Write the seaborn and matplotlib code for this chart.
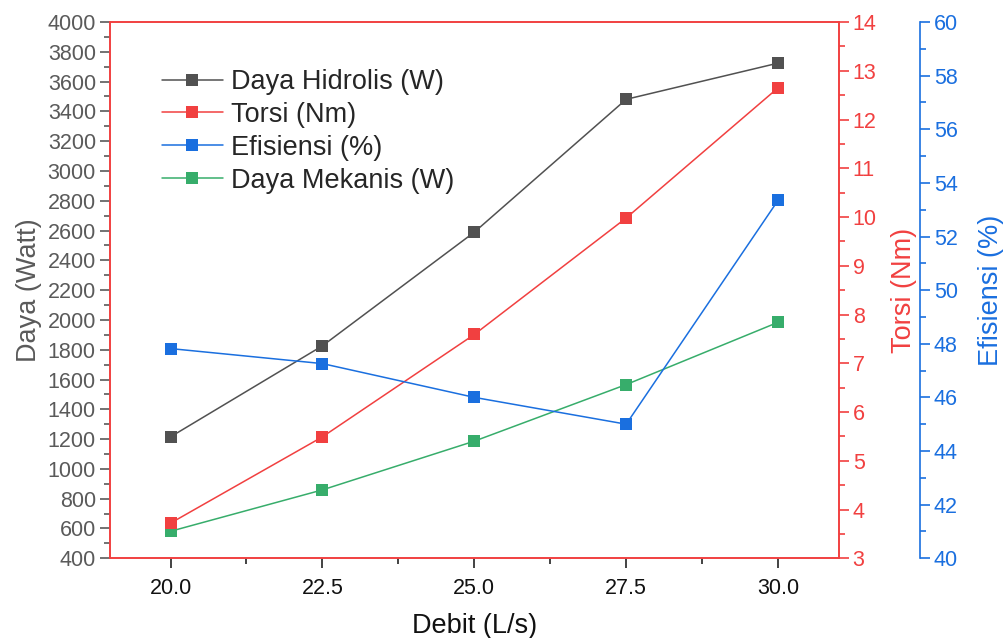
import matplotlib
matplotlib.use("Agg")
import matplotlib.pyplot as plt
import seaborn as sns
import pandas as pd
from matplotlib.ticker import MultipleLocator

# data
debit = [20.0, 22.5, 25.0, 27.5, 30.0]
daya_hidrolis = [1215, 1826, 2589, 3481, 3724]
torsi = [3.72, 5.49, 7.59, 9.98, 12.65]
efisiensi = [47.82, 47.26, 46.0, 45.0, 53.35]
daya_mekanis = [581, 859, 1186, 1566, 1984]

df = pd.DataFrame({"debit": debit, "hidrolis": daya_hidrolis, "torsi": torsi,
                   "efisiensi": efisiensi, "mekanis": daya_mekanis})

# Origin-like colours
c_gray = "#515151"
c_red = "#F14040"
c_blue = "#1A6FDF"
c_green = "#37AD6B"
c_txt = "#5a5a5a"

sns.set_style("white")
plt.rcParams["font.family"] = ["Liberation Sans", "DejaVu Sans"]

fig = plt.figure(figsize=(10.07, 6.38), dpi=100)
ax = fig.add_axes([0.109, 0.125, 0.724, 0.8405])
ax2 = ax.twinx()
ax3 = ax.twinx()
ax3.spines["right"].set_position(("outward", 58.5))  # ~81 px at 100 dpi

mk = dict(marker="s", markersize=9, linewidth=1.1, markeredgewidth=0)
sns.lineplot(data=df, x="debit", y="hidrolis", ax=ax, color=c_gray, label="Daya Hidrolis (W)", **mk)
sns.lineplot(data=df, x="debit", y="mekanis", ax=ax, color=c_green, label="Daya Mekanis (W)", **mk)
sns.lineplot(data=df, x="debit", y="torsi", ax=ax2, color=c_red, label="Torsi (Nm)", **mk)
sns.lineplot(data=df, x="debit", y="efisiensi", ax=ax3, color=c_blue, label="Efisiensi (%)", **mk)

# limits and ticks
ax.set_xlim(19, 31)
ax.set_ylim(400, 4000)
ax2.set_ylim(3, 14)
ax3.set_ylim(40, 60)
ax.xaxis.set_major_locator(MultipleLocator(2.5))
ax.xaxis.set_minor_locator(MultipleLocator(1.25))
ax.xaxis.set_major_formatter(matplotlib.ticker.FormatStrFormatter("%.1f"))
ax.yaxis.set_major_locator(MultipleLocator(200))
ax.yaxis.set_minor_locator(MultipleLocator(100))
ax2.yaxis.set_major_locator(MultipleLocator(1))
ax2.yaxis.set_minor_locator(MultipleLocator(0.5))
ax3.yaxis.set_major_locator(MultipleLocator(2))
ax3.yaxis.set_minor_locator(MultipleLocator(1))

ax.tick_params(axis="x", which="major", direction="out", length=7, width=1.2,
               color="#222222", labelcolor="#111111", labelsize=15.5, bottom=True, pad=7)
ax.tick_params(axis="x", which="minor", direction="out", length=4, width=1.2,
               color="#222222", bottom=True)
ax.tick_params(axis="y", which="major", direction="out", length=7, width=1.2,
               color=c_txt, labelcolor=c_txt, labelsize=15.5, left=True, pad=3)
ax.tick_params(axis="y", which="minor", direction="out", length=4, width=1.2,
               color=c_txt, left=True)
ax2.tick_params(axis="y", which="major", direction="out", length=7, width=1.2,
                color=c_red, labelcolor=c_red, labelsize=15.5, right=True, pad=3)
ax2.tick_params(axis="y", which="minor", direction="out", length=4, width=1.2,
                color=c_red, right=True)
ax3.tick_params(axis="y", which="major", direction="out", length=7, width=1.2,
                color=c_blue, labelcolor=c_blue, labelsize=15.5, right=True, pad=3)
ax3.tick_params(axis="y", which="minor", direction="out", length=4, width=1.2,
                color=c_blue, right=True)

for a in (ax, ax2):
    for s in a.spines.values():
        s.set_color(c_red)
        s.set_linewidth(1.2)
for name, s in ax3.spines.items():
    s.set_visible(name == "right")
ax3.spines["right"].set_color(c_blue)
ax3.spines["right"].set_linewidth(1.2)

ax.set_xlabel("Debit (L/s)", fontsize=19.5, color="#111111", labelpad=10)
ax.set_ylabel("Daya (Watt)", fontsize=19.5, color=c_txt, labelpad=4)
ax2.set_ylabel("Torsi (Nm)", fontsize=19.5, color=c_red, labelpad=10)
ax3.set_ylabel("Efisiensi (%)", fontsize=19.5, color=c_blue, labelpad=14)

# one legend with all four series, in the order of the original
for a in (ax2, ax3):
    a.get_legend().remove()
h1, l1 = ax.get_legend_handles_labels()
h2, l2 = ax2.get_legend_handles_labels()
h3, l3 = ax3.get_legend_handles_labels()
handles = [h1[0], h2[0], h3[0], h1[1]]
labels = [l1[0], l2[0], l3[0], l1[1]]
ax.legend(handles, labels, loc="upper left", bbox_to_anchor=(0.071, 0.912),
          frameon=False, fontsize=19.5, handlelength=2.26, handletextpad=0.3,
          labelspacing=0.25, borderpad=0, borderaxespad=0)

fig.savefig("out.png", dpi=100)
